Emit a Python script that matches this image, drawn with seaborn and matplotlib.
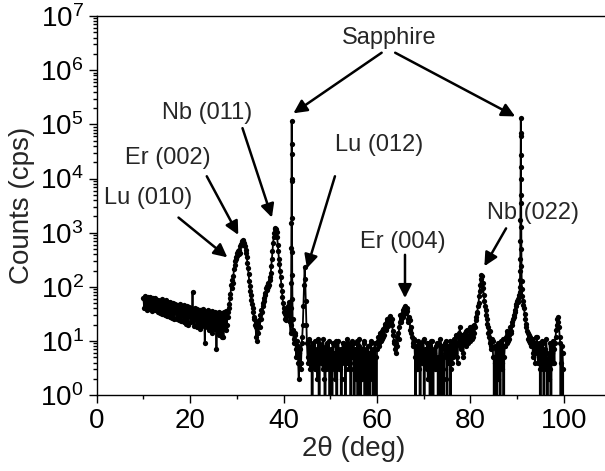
import numpy as np
import pandas as pd
import seaborn as sns
import matplotlib.pyplot as plt
from matplotlib.ticker import LogLocator, NullFormatter

# scan grid 10-100 deg, 0.125 deg step; counts (cps)
cps_10_20 = [62, 41, 55, 68, 44, 58, 38, 65,
             46, 60, 39, 52, 66, 42, 57, 36,
             61, 45, 53, 37, 62, 48, 40, 56,
             34, 58, 44, 50, 33, 55, 39, 60,
             31, 49, 54, 36, 45, 30, 56, 41,
             48, 29, 52, 38, 44, 28, 53, 35,
             46, 27, 50, 33, 41, 26, 49, 37,
             44, 25, 47, 31, 40, 24, 48, 34,
             42, 23, 45, 30, 38, 22, 46, 32,
             40, 21, 44, 28, 37, 20, 43, 30]
cps_20_30 = [38, 22, 41, 27, 82, 24, 36, 19,
             40, 26, 35, 18, 39, 23, 34, 20,
             37, 17, 38, 25, 33, 19, 39, 21,
             34, 9, 36, 22, 31, 18, 37, 24,
             33, 16, 35, 21, 30, 14, 36, 19,
             32, 17, 34, 20, 29, 7, 33, 15,
             31, 13, 35, 18, 30, 15, 33, 12,
             30, 12, 34, 17, 32, 16, 36, 20,
             35, 28, 48, 40, 75, 62, 110, 95,
             135, 120, 160, 210, 250, 300, 360, 330]
cps_30_40 = [420, 370, 450, 400, 480, 430, 560, 620,
             650, 700, 730, 690, 640, 600, 560, 480,
             420, 350, 280, 220, 170, 130, 105, 85,
             70, 56, 48, 40, 34, 28, 26, 20,
             18, 12, 22, 10, 20, 14, 24, 18,
             30, 26, 38, 34, 50, 44, 62, 55,
             78, 70, 95, 88, 105, 98, 120, 110,
             135, 150, 180, 240, 320, 450, 650, 820,
             1000, 1150, 1220, 1180, 1050, 820, 600, 450,
             330, 260, 200, 150, 110, 85, 65, 50]
cps_40_50 = [40, 34, 32, 26, 28, 24, 35, 40,
             45, 52, 30, 22, 14, 40, 50, 30,
             16, 11, 9, 14, 13, 7, 5, 10,
             8, 4, 2, 6, 7, 3, 4, 9,
             12, 20, 45, 110, 230, 140, 55, 20,
             9, 5, 4, 11, 10, 6, 3, 8,
             8, 0, 4, 9, 6, 3, 10, 5,
             3, 7, 2, 11, 9, 0, 5, 8,
             4, 4, 7, 3, 11, 6, 2, 0,
             8, 3, 5, 9, 6, 3, 10, 0]
cps_50_60 = [4, 7, 6, 0, 9, 4, 3, 6,
             2, 10, 8, 0, 4, 7, 10, 3,
             5, 5, 7, 0, 2, 9, 9, 4,
             5, 8, 0, 3, 11, 4, 6, 9,
             3, 4, 8, 0, 3, 10, 5, 6,
             9, 0, 5, 7, 2, 3, 10, 0,
             4, 8, 11, 3, 0, 6, 7, 2,
             5, 10, 9, 0, 3, 7, 4, 0,
             8, 4, 6, 2, 0, 9, 10, 3,
             2, 7, 0, 4, 9, 5, 5, 0]
cps_60_70 = [7, 10, 12, 8, 9, 13, 14, 10,
             11, 15, 17, 12, 13, 19, 21, 16,
             17, 23, 25, 19, 21, 27, 29, 22,
             22, 26, 20, 15, 13, 10, 9, 7,
             6, 9, 8, 12, 14, 11, 18, 22,
             30, 22, 24, 32, 38, 28, 31, 40,
             44, 34, 33, 40, 36, 26, 22, 28,
             24, 16, 14, 18, 12, 9, 8, 11,
             10, 5, 0, 8, 7, 3, 10, 4,
             3, 9, 0, 6, 8, 4, 5, 10]
cps_70_80 = [11, 0, 5, 7, 6, 3, 9, 2,
             2, 9, 8, 0, 4, 10, 10, 4,
             0, 6, 7, 3, 5, 8, 9, 3,
             5, 0, 4, 9, 11, 0, 3, 7,
             8, 3, 0, 5, 6, 9, 10, 2,
             0, 8, 7, 4, 4, 10, 0, 3,
             9, 4, 5, 10, 11, 6, 6, 12,
             13, 5, 4, 9, 10, 14, 18, 8,
             7, 13, 12, 6, 5, 11, 14, 9,
             8, 15, 16, 10, 9, 12, 13, 18]
cps_80_90 = [10, 14, 17, 11, 12, 19, 20, 14,
             18, 24, 28, 33, 35, 44, 50, 68,
             85, 110, 140, 165, 160, 120, 95, 70,
             55, 45, 38, 30, 26, 21, 18, 14,
             12, 9, 15, 7, 8, 11, 10, 5,
             5, 0, 4, 8, 7, 0, 3, 9,
             2, 6, 9, 0, 5, 10, 3, 4,
             11, 0, 5, 8, 8, 12, 15, 9,
             10, 14, 13, 11, 18, 15, 14, 20,
             22, 26, 30, 28, 38, 34, 48, 44]
cps_90_100 = [55, 52, 60, 65, 70, 90, 100, 95,
              80, 68, 55, 46, 40, 31, 25, 21,
              18, 15, 14, 11, 10, 13, 12, 9,
              8, 11, 11, 6, 5, 9, 9, 4,
              7, 12, 12, 6, 4, 9, 8, 3,
              0, 7, 10, 4, 3, 9, 0, 5,
              7, 3, 11, 6, 0, 4, 5, 2,
              9, 3, 0, 8, 6, 4, 10, 7,
              4, 9, 12, 16, 20, 25, 28, 22,
              18, 12, 9, 0, 4, 8, 6, 3,
              0]

# finer points across the two sapphire substrate peaks
sapph1_tt = [41.56, 41.60, 41.63, 41.66, 41.68, 41.70, 41.72, 41.74,
             41.76, 41.78, 41.80, 41.82, 41.85, 41.89, 41.94]
sapph1_cps = [20, 40, 120, 520, 1500, 10000, 44000, 115000,
              28000, 9000, 1900, 440, 165, 60, 25]
sapph2_tt = [90.56, 90.60, 90.63, 90.66, 90.68, 90.70, 90.72, 90.74, 90.76, 90.78,
             90.80, 90.82, 90.84, 90.86, 90.88, 90.90, 90.92, 90.95, 90.98, 91.02]
sapph2_cps = [80, 100, 135, 200, 320, 700, 1700, 5000, 16000, 60000,
              130000, 70000, 27000, 10000, 3500, 1300, 500, 240, 130, 90]

grid = np.round(np.arange(10, 100.0001, 0.125), 3)
cps_grid = np.array(cps_10_20 + cps_20_30 + cps_30_40 + cps_40_50 + cps_50_60
                    + cps_60_70 + cps_70_80 + cps_80_90 + cps_90_100, dtype=float)
keep = ~(((grid > 41.55) & (grid < 41.95)) | ((grid > 90.55) & (grid < 91.05)))

df = pd.DataFrame({
    "tt": np.concatenate([grid[keep], sapph1_tt, sapph2_tt]),
    "cps": np.concatenate([cps_grid[keep], sapph1_cps, sapph2_cps]),
}).sort_values("tt")

sns.set_theme(style="ticks")
plt.rcParams["font.family"] = ["Liberation Sans", "DejaVu Sans"]
plt.rcParams["mathtext.fontset"] = "custom"
plt.rcParams["mathtext.rm"] = "Liberation Sans"
plt.rcParams["mathtext.default"] = "regular"

fig = plt.figure(figsize=(6.05, 4.71), dpi=100)
ax = fig.add_axes([0.16, 0.161, 0.849, 0.805])
ax.set_yscale("log")

sns.lineplot(data=df, x="tt", y="cps", ax=ax, estimator=None, sort=False,
             color="black", linewidth=1.3, marker="o", markersize=3.8,
             markeredgewidth=0)

ax.set_xlim(0, 110)
ax.set_ylim(1, 1e7)
ax.set_xticks([0, 20, 40, 60, 80, 100])
ax.set_xticks([10, 30, 50, 70, 90], minor=True)
ax.yaxis.set_major_locator(LogLocator(base=10, numticks=20))
ax.yaxis.set_minor_locator(LogLocator(base=10, subs=np.arange(2, 10), numticks=100))
ax.yaxis.set_minor_formatter(NullFormatter())
ax.tick_params(axis="both", which="major", direction="out", length=6,
               width=1, labelsize=20, color="black", labelcolor="black")
ax.tick_params(axis="both", which="minor", direction="out", length=3,
               width=1, color="black")
for s in ax.spines.values():
    s.set_color("black")
    s.set_linewidth(1.0)

ax.set_xlabel("2θ (deg)", fontsize=20, labelpad=1)
ax.set_ylabel("Counts (cps)", fontsize=20, labelpad=4)

# peak labels and arrows
arrow = dict(arrowstyle="-|>", color="black", lw=1.8, mutation_scale=20,
             shrinkA=0, shrinkB=0)
labels = [
    ("Sapphire", 62.6, 4.0e6),
    ("Nb (011)", 23.7, 1.6e5),
    ("Er (002)", 15.2, 2.4e4),
    ("Lu (010)", 10.9, 4.4e3),
    ("Lu (012)", 60.5, 4.2e4),
    ("Er (004)", 65.5, 680),
    ("Nb (022)", 93.5, 2300),
]
arrows = [
    ((61.0, 2.1e6), (42.1, 1.6e5)),
    ((63.9, 2.1e6), (89.6, 1.4e5)),
    ((31.2, 8.5e4), (37.5, 1.9e3)),
    ((23.55, 1.1e4), (30.3, 910)),
    ((17.5, 1.9e3), (27.96, 350)),
    ((51.0, 1.1e4), (45.0, 220)),
    ((66.0, 390), (66.0, 62)),
    ((87.65, 1200), (83.0, 240)),
]
for txt, x, y in labels:
    ax.text(x, y, txt, fontsize=17, ha="center", va="center")
for start, end in arrows:
    ax.annotate("", xy=end, xytext=start, arrowprops=arrow)

fig.savefig("out.png", dpi=100)
